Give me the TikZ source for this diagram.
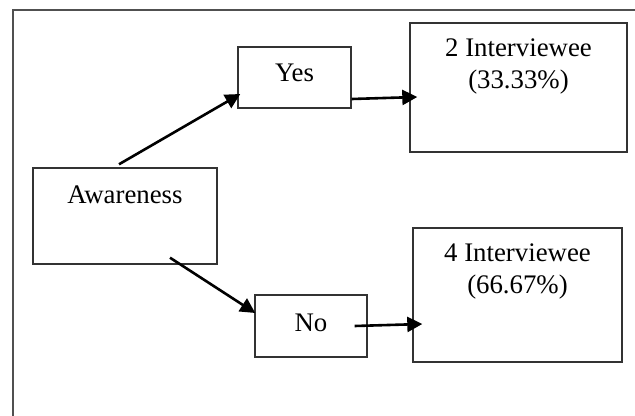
\documentclass[tikz,border=0pt]{standalone}
\usepackage{fontspec}
\setmainfont{Liberation Serif}
\usetikzlibrary{arrows.meta}
\definecolor{framegray}{HTML}{505050}

\begin{document}
\begin{tikzpicture}[x=0.5pt, y=-0.5pt,
    box/.style={draw=black!80, line width=0.7pt, inner sep=0pt},
    txt/.style={font=\fontsize{13.4}{16}\selectfont, align=center},
    arr/.style={line width=1.3pt, -{Triangle[length=7.5pt, width=7.5pt]}}]
                \useasboundingbox (0,0) rectangle (635,416);
                \draw[framegray, line width=1.2pt] (13,416) -- (13,10) -- (635,10);

                % boxes
                \node[box, minimum width=92pt, minimum height=48pt,
                      label={[txt, yshift=10.5pt]center:Awareness}] (aware) at (125,216) {};
                \node[box, minimum width=56.5pt, minimum height=30.5pt,
                      label={[txt, yshift=2.25pt]center:Yes}] (yes) at (294.5,77.5) {};
                \node[box, minimum width=56pt, minimum height=31pt,
                      label={[txt, yshift=1.75pt]center:No}] (no) at (311,326) {};
                \node[box, minimum width=108.5pt, minimum height=64.5pt,
                      label={[txt, yshift=10.5pt]center:2 Interviewee\\(33.33\%)}] (two) at (518.5,87.5) {};
                \node[box, minimum width=104.5pt, minimum height=67pt,
                      label={[txt, yshift=11.75pt]center:4 Interviewee\\(66.67\%)}] (four) at (517.5,295) {};

                % arrows
                \draw[arr] ([xshift=-3pt, yshift=1.5pt]aware.north) -- ([xshift=1.5pt, yshift=-8.25pt]yes.west);
                \draw[arr] ([yshift=-10.75pt]yes.east) -- ([xshift=4pt, yshift=-4.75pt]two.west);
                \draw[arr] ([xshift=22.5pt, yshift=3.5pt]aware.south) -- ([xshift=0.5pt, yshift=6.5pt]no.west);
                \draw[arr] ([xshift=-6.5pt]no.east) -- ([xshift=5pt, yshift=-14.5pt]four.west);
            \end{tikzpicture}
\end{document}
